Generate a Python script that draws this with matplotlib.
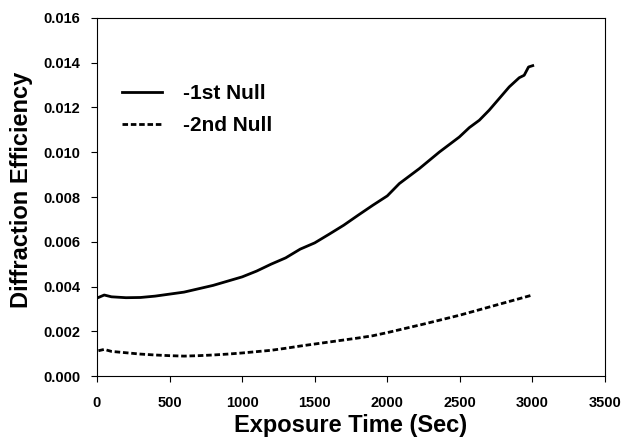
import matplotlib
matplotlib.use("Agg")
import matplotlib.pyplot as plt

plt.rcParams['font.family'] = ['Liberation Sans', 'DejaVu Sans']
plt.rcParams['font.weight'] = 'bold'

# -1st null (solid)
t1 = [10, 50, 100, 200, 300, 400, 500, 600, 700, 800, 900, 1000,
      1100, 1200, 1300, 1400, 1500, 1600, 1700, 1800, 1900, 2000,
      2083, 2221, 2359, 2496, 2565, 2634, 2702, 2771, 2840, 2909,
      2943, 2973, 3002]
eff1 = [0.00351, 0.00362, 0.00354, 0.00350, 0.00351, 0.00357, 0.00366,
        0.00375, 0.00390, 0.00405, 0.00424, 0.00443, 0.00469, 0.00500,
        0.00528, 0.00567, 0.00595, 0.00634, 0.00674, 0.00719, 0.00763,
        0.00805, 0.00860, 0.00927, 0.01001, 0.01068, 0.01110, 0.01143,
        0.01188, 0.01240, 0.01292, 0.01333, 0.01344, 0.01381, 0.01387]

# -2nd null (dashed)
t2 = [10, 50, 100, 200, 300, 400, 500, 600, 700, 800, 900, 1000,
      1100, 1200, 1300, 1400, 1500, 1600, 1700, 1800, 1900, 2000,
      2250, 2500, 2750, 3000]
eff2 = [0.00113, 0.00119, 0.00110, 0.00104, 0.00098, 0.00094, 0.00091,
        0.00089, 0.00091, 0.00094, 0.00098, 0.00103, 0.00109, 0.00115,
        0.00124, 0.00134, 0.00143, 0.00152, 0.00161, 0.00170, 0.00180,
        0.00194, 0.00232, 0.00272, 0.00317, 0.00362]

fig = plt.figure(figsize=(6.24, 4.45), dpi=100)
ax = fig.add_axes([0.1554, 0.155, 0.8142, 0.8046])

ax.plot(t1, eff1, color='black', lw=2.0, label='-1st Null')
ax.plot(t2, eff2, color='black', lw=2.0, ls=(0, (2.0, 1.0)), label='-2nd Null')

ax.set_xlim(0, 3500)
ax.set_ylim(0, 0.016)
ax.set_xticks(range(0, 3501, 500))
ax.set_yticks([i * 0.002 for i in range(9)])
ax.set_yticklabels([f'{i * 0.002:.3f}' for i in range(9)])
ax.tick_params(direction='out', length=4, width=0.8, labelsize=10.5)
ax.tick_params(axis='x', pad=10.5)
ax.tick_params(axis='y', pad=8)
for lab in ax.get_xticklabels() + ax.get_yticklabels():
    lab.set_fontweight('bold')
for s in ax.spines.values():
    s.set_linewidth(0.8)

ax.set_xlabel('Exposure Time (Sec)', fontsize=17, fontweight='bold', labelpad=3)
ax.set_ylabel('Diffraction Efficiency', fontsize=17, fontweight='bold')
ax.yaxis.set_label_coords(-0.126, 0.52)

ax.legend(loc='upper left', bbox_to_anchor=(0.05, 0.815), frameon=False,
          prop={'size': 15, 'weight': 'bold'}, handlelength=1.9,
          handletextpad=1.0, labelspacing=0.62, borderpad=0, borderaxespad=0)

fig.savefig('out.png', dpi=100)
